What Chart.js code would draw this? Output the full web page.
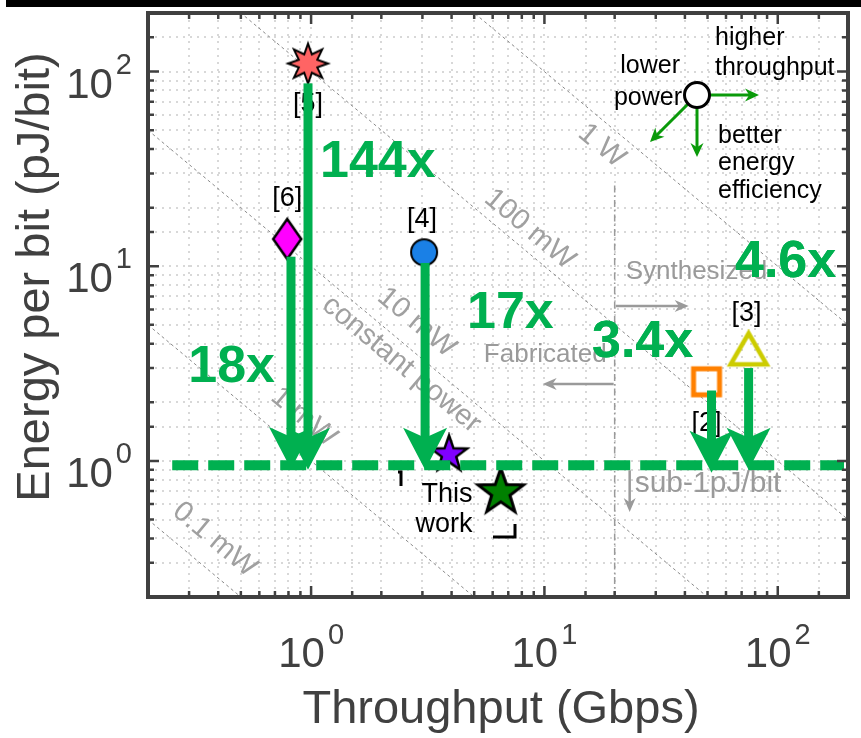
<!DOCTYPE html>
<html>
<head>
<meta charset="utf-8">
<script src="https://cdn.jsdelivr.net/npm/chart.js@4.4.0/dist/chart.umd.min.js"></script>
<style>
  html, body { margin: 0; padding: 0; background: #fff; }
  #wrap { width: 861px; height: 738px; }
</style>
</head>
<body>
<div id="wrap"><canvas id="graph1" width="861" height="738"></canvas></div>
<script>
// prior work: [5] [6] [4] [3] [2]
const refLabels = ['[5]', '[6]', '[4]', '[3]', '[2]'];
const refThroughput = [0.97, 0.79, 3.05, 75, 49.5];
const refEnergy = [110, 13.8, 11.8, 3.7, 2.55];

// this work (two designs)
const workThroughput = [3.9, 6.5];
const workEnergy = [1.08, 0.69];

// improvement arrows, same order as refLabels
const gainLabels = ['144x', '18x', '17x', '4.6x', '3.4x'];
const arrowThroughput = [0.97, 0.82, 3.08, 75, 52];
const arrowFromEnergy = [87, 11.2, 10.4, 3.0, 2.3];
const arrowToEnergy = [0.9, 0.91, 0.9, 0.9, 0.87];

const sub1Level = 0.95;
const powerLevels = [0.1, 1, 10, 100, 1000]; // mW
const powerLabels = ['0.1 mW', '1 mW', '10 mW', '100 mW', '1 W'];
const fabSynthSplit = 20; // Gbps

const tickValues = [1, 10, 100];
const tickExp = ['0', '1', '2'];

const FONT = '"Liberation Sans", Arial, sans-serif';
const GREEN = '#00b050';
const AXIS = '#404040';

function makeMarker(w, h, draw) {
  const c = document.createElement('canvas');
  c.width = w; c.height = h;
  draw(c.getContext('2d'), w / 2, h / 2);
  return c;
}
function starPath(g, cx, cy, n, ro, ri) {
  g.beginPath();
  for (let i = 0; i < 2 * n; i++) {
    const r = i % 2 ? ri : ro;
    const a = -Math.PI / 2 + i * Math.PI / n;
    g.lineTo(cx + r * Math.cos(a), cy + r * Math.sin(a));
  }
  g.closePath();
}
function fillStroke(g, fill, stroke, lw) {
  if (fill) { g.fillStyle = fill; g.fill(); }
  g.lineWidth = lw; g.strokeStyle = stroke; g.lineJoin = 'miter'; g.stroke();
}

const refMarkers = [
  makeMarker(48, 48, (g, cx, cy) => { starPath(g, cx, cy, 8, 20, 10); fillStroke(g, '#ff6464', '#000', 2); }),
  makeMarker(34, 46, (g, cx, cy) => {
    g.beginPath(); g.moveTo(cx, cy - 20); g.lineTo(cx + 14, cy); g.lineTo(cx, cy + 20); g.lineTo(cx - 14, cy); g.closePath();
    fillStroke(g, '#ff00ff', '#000', 2.5);
  }),
  makeMarker(32, 32, (g, cx, cy) => { g.beginPath(); g.arc(cx, cy, 13, 0, Math.PI * 2); fillStroke(g, '#1a80e6', '#000', 2); }),
  makeMarker(46, 42, (g, cx, cy) => {
    g.beginPath(); g.moveTo(cx, cy - 17); g.lineTo(cx + 18, cy + 14); g.lineTo(cx - 18, cy + 14); g.closePath();
    fillStroke(g, null, '#cccc00', 4.5);
  }),
  makeMarker(36, 36, (g, cx, cy) => { g.beginPath(); g.rect(cx - 13, cy - 13, 26, 26); fillStroke(g, null, '#ff8000', 5); })
];
const workMarkers = [
  makeMarker(44, 44, (g, cx, cy) => { starPath(g, cx, cy, 5, 19, 7.6); fillStroke(g, '#8000ff', '#000', 2.5); }),
  makeMarker(54, 54, (g, cx, cy) => { starPath(g, cx, cy, 5, 24, 9.6); fillStroke(g, '#008000', '#000', 3); })
];

function font(size, bold) { return (bold ? 'bold ' : '') + size + 'px ' + FONT; }

function lineArrow(g, x0, y0, x1, y1, color, lw, hl, hw) {
  const a = Math.atan2(y1 - y0, x1 - x0);
  g.strokeStyle = color; g.fillStyle = color; g.lineWidth = lw; g.setLineDash([]);
  g.beginPath(); g.moveTo(x0, y0);
  g.lineTo(x1 - Math.cos(a) * hl * 0.6, y1 - Math.sin(a) * hl * 0.6); g.stroke();
  g.save(); g.translate(x1, y1); g.rotate(a);
  g.beginPath(); g.moveTo(0, 0); g.lineTo(-hl, -hw / 2); g.lineTo(-hl * 0.7, 0); g.lineTo(-hl, hw / 2); g.closePath(); g.fill();
  g.restore();
}

function blockArrow(g, x, yTop, yTip) {
  const shaftW = 9, headW = 44, headL = 42, notch = 10;
  g.fillStyle = GREEN;
  g.fillRect(x - shaftW / 2, yTop, shaftW, yTip - headL + notch - yTop + 1);
  g.beginPath();
  g.moveTo(x, yTip);
  g.lineTo(x - headW / 2, yTip - headL);
  g.lineTo(x, yTip - headL + notch);
  g.lineTo(x + headW / 2, yTip - headL);
  g.closePath(); g.fill();
}

const decor = {
  id: 'decor',
  beforeDraw(chart) {
    const g = chart.ctx;
    g.save();
    g.fillStyle = '#fff'; g.fillRect(0, 0, chart.width, chart.height);
    g.fillStyle = '#000'; g.fillRect(6, 0, chart.width - 6, 7);
    g.restore();
  },
  beforeDatasetsDraw(chart) {
    const { ctx: g, chartArea: a, scales: { x, y } } = chart;
    g.save();
    g.beginPath(); g.rect(a.left, a.top, a.right - a.left, a.bottom - a.top); g.clip();

    // constant power lines E = P / T
    g.strokeStyle = '#8a8a8a'; g.lineWidth = 1; g.setLineDash([3, 3]);
    powerLevels.forEach(p => {
      g.beginPath();
      g.moveTo(x.getPixelForValue(x.min), y.getPixelForValue(p / x.min));
      g.lineTo(x.getPixelForValue(x.max), y.getPixelForValue(p / x.max));
      g.stroke();
    });
    const ang = Math.atan2(y.getPixelForValue(1 / 10) - y.getPixelForValue(1), x.getPixelForValue(10) - x.getPixelForValue(1));

    // fabricated / synthesized split
    const xs = x.getPixelForValue(fabSynthSplit);
    g.strokeStyle = '#9a9a9a'; g.lineWidth = 1.5; g.setLineDash([7, 3, 1.5, 3]);
    g.beginPath(); g.moveTo(xs, y.getPixelForValue(26)); g.lineTo(xs, a.bottom); g.stroke();
    g.setLineDash([]);

    // power labels, rotated along the lines
    const labelPos = [[0.386, 0.394], [0.93, 1.68], [2.83, 5.14], [8.64, 15.5], [17.6, 41.6]];
    g.fillStyle = '#a0a0a0'; g.font = font(29); g.textAlign = 'center'; g.textBaseline = 'middle';
    powerLabels.forEach((t, i) => {
      g.save();
      g.translate(x.getPixelForValue(labelPos[i][0]), y.getPixelForValue(labelPos[i][1]));
      g.rotate(ang); g.fillText(t, 0, 0); g.restore();
    });
    g.save();
    g.translate(x.getPixelForValue(2.44), y.getPixelForValue(3.13));
    g.rotate(ang); g.fillText('constant power', 0, 0); g.restore();
    g.restore();
  },
  afterDatasetsDraw(chart) {
    const { ctx: g, chartArea: a, scales: { x, y } } = chart;
    g.save();

    // reference labels (offset from marker), under the arrows
    const refOff = [[0, 48], [0, -33], [-2, -25], [-2, -29], [0, 49]];
    g.fillStyle = '#000'; g.font = font(27); g.textAlign = 'center'; g.textBaseline = 'alphabetic';
    refLabels.forEach((t, i) => {
      g.fillText(t, x.getPixelForValue(refThroughput[i]) + refOff[i][0], y.getPixelForValue(refEnergy[i]) + refOff[i][1]);
    });

    // sub-1pJ/bit line
    const ys = y.getPixelForValue(sub1Level);
    g.strokeStyle = GREEN; g.lineWidth = 10; g.setLineDash([26, 10]);
    g.beginPath(); g.moveTo(x.getPixelForValue(0.254), ys); g.lineTo(a.right - 4, ys); g.stroke();
    g.setLineDash([]);

    // improvement arrows
    arrowThroughput.forEach((t, i) => {
      blockArrow(g, x.getPixelForValue(t), y.getPixelForValue(arrowFromEnergy[i]), y.getPixelForValue(arrowToEnergy[i]));
    });

    // gain labels
    const gainPos = [[320, 177, 'left'], [275, 382, 'right'], [467, 328, 'left'], [735, 277, 'left'], [592, 357, 'left']];
    g.fillStyle = GREEN; g.font = font(52, true);
    gainLabels.forEach((t, i) => { g.textAlign = gainPos[i][2]; g.fillText(t, gainPos[i][0], gainPos[i][1]); });

    g.fillStyle = '#000'; g.font = font(27); g.textAlign = 'center';
    g.fillText('This', 447, 502);
    g.fillText('work', 444, 532);
    g.lineWidth = 3; g.strokeStyle = '#000';
    g.beginPath(); g.moveTo(398, 472); g.lineTo(401, 472); g.lineTo(401, 486); g.stroke();
    g.beginPath(); g.moveTo(493, 537); g.lineTo(515, 537); g.lineTo(515, 524); g.stroke();

    // fabricated / synthesized / sub-1pJ annotations
    const xs = x.getPixelForValue(fabSynthSplit);
    g.fillStyle = '#9a9a9a'; g.font = font(26); g.textAlign = 'left';
    g.fillText('Synthesized', xs + 11, 279);
    g.textAlign = 'right';
    g.fillText('Fabricated', xs - 8, 362);
    g.textAlign = 'left'; g.font = font(30);
    g.fillText('sub-1pJ/bit', xs + 20, 492);
    lineArrow(g, xs + 1, 306, xs + 74, 306, '#9a9a9a', 2.5, 14, 12);
    lineArrow(g, xs - 1, 384, xs - 72, 384, '#9a9a9a', 2.5, 14, 12);
    lineArrow(g, xs + 15, ys + 5, xs + 15, 512, '#9a9a9a', 2.5, 14, 12);

    // redraw overlapping green label on top of gray text
    g.fillStyle = GREEN; g.font = font(52, true); g.textAlign = 'left';
    g.fillText(gainLabels[3], 735, 277);
    g.fillText(gainLabels[4], 592, 357);

    // direction inset
    const cx = 697, cy = 95;
    const dg = '#0a9a0a';
    lineArrow(g, cx + 13, cy, cx + 62, cy, dg, 3, 14, 13);
    lineArrow(g, cx, cy + 13, cx, cy + 62, dg, 3, 14, 13);
    lineArrow(g, cx - 9, cy + 9, cx - 47, cy + 47, dg, 3, 14, 13);
    g.beginPath(); g.arc(cx, cy, 12.5, 0, Math.PI * 2);
    g.fillStyle = '#fff'; g.fill(); g.lineWidth = 3; g.strokeStyle = '#000'; g.stroke();
    g.fillStyle = '#000'; g.font = font(25); g.textAlign = 'left';
    g.fillText('higher', 715, 45);
    g.fillText('throughput', 715, 75);
    g.textAlign = 'right';
    g.fillText('lower', 680, 73);
    g.fillText('power', 682, 105);
    g.textAlign = 'left';
    g.fillText('better', 718, 143);
    g.fillText('energy', 718, 170);
    g.fillText('efficiency', 718, 198);
    g.restore();
  },
  afterDraw(chart) {
    const { ctx: g, chartArea: a, scales: { x, y } } = chart;
    g.save();
    g.strokeStyle = AXIS; g.fillStyle = AXIS; g.setLineDash([]);
    // inner ticks
    g.lineWidth = 2.5;
    const isMajor = v => Math.abs(Math.log10(v) - Math.round(Math.log10(v))) < 1e-6;
    x.ticks.forEach(t => {
      const px = x.getPixelForValue(t.value);
      if (px <= a.left + 2 || px >= a.right - 2) return;
      const L = isMajor(t.value) ? 11 : 6;
      g.beginPath(); g.moveTo(px, a.bottom); g.lineTo(px, a.bottom - L);
      g.moveTo(px, a.top); g.lineTo(px, a.top + L); g.stroke();
    });
    y.ticks.forEach(t => {
      const py = y.getPixelForValue(t.value);
      if (py <= a.top + 2 || py >= a.bottom - 2) return;
      const L = isMajor(t.value) ? 11 : 6;
      g.beginPath(); g.moveTo(a.left, py); g.lineTo(a.left + L, py);
      g.moveTo(a.right, py); g.lineTo(a.right - L, py); g.stroke();
    });
    // box
    g.lineWidth = 4;
    g.strokeRect(a.left, a.top, a.right - a.left, a.bottom - a.top);

    // tick labels with superscript exponents
    g.textBaseline = 'alphabetic';
    tickValues.forEach((v, i) => {
      g.font = font(42); const wb = g.measureText('10').width;
      g.font = font(29); const ws = g.measureText(tickExp[i]).width;
      const px = x.getPixelForValue(v);
      const left = px - (wb + ws + 3) / 2;
      g.textAlign = 'left';
      g.font = font(42); g.fillText('10', left, 667);
      g.font = font(29); g.fillText(tickExp[i], left + wb + 3, 644);

      const py = y.getPixelForValue(v);
      const right = a.left - 16;
      g.font = font(29); g.fillText(tickExp[i], right - ws, py + 2);
      g.font = font(42); g.fillText('10', right - ws - 3 - wb, py + 26);
    });

    // axis titles
    g.font = font(47); g.textAlign = 'center';
    g.fillText('Throughput (Gbps)', 501, 723);
    g.save();
    g.translate(49, 277);
    g.rotate(-Math.PI / 2);
    g.fillText('Energy per bit (pJ/bit)', 0, 0);
    g.restore();
    g.restore();
  }
};

const ctx1 = document.getElementById('graph1').getContext('2d');
new Chart(ctx1, {
  type: 'scatter',
  data: {
    datasets: [{
      label: 'Prior work',
      data: refThroughput.map((t, i) => ({ x: t, y: refEnergy[i] })),
      pointStyle: refMarkers,
      pointRadius: 12
    }, {
      label: 'This work',
      data: workThroughput.map((t, i) => ({ x: t, y: workEnergy[i] })),
      pointStyle: workMarkers,
      pointRadius: 12
    }]
  },
  options: {
    responsive: false,
    animation: false,
    layout: { padding: { left: 148, top: 9, right: 3, bottom: 141 } },
    plugins: { legend: { display: false }, tooltip: { enabled: false } },
    scales: {
      x: {
        type: 'logarithmic', min: 0.2, max: 200,
        ticks: { display: false },
        grid: { color: '#d8d8d8', lineWidth: 2, drawTicks: false },
        border: { display: false, dash: [2, 5] }
      },
      y: {
        type: 'logarithmic', min: 0.2, max: 200,
        ticks: { display: false },
        grid: { color: '#d8d8d8', lineWidth: 2, drawTicks: false },
        border: { display: false, dash: [2, 5] }
      }
    }
  },
  plugins: [decor]
});
</script>
</body>
</html>
